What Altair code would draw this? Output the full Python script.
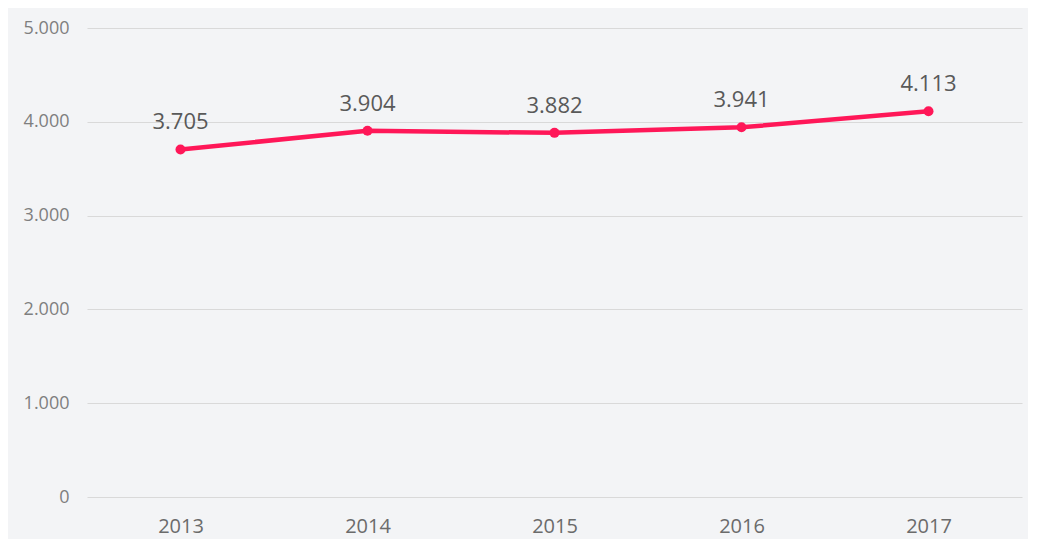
import altair as alt
import pandas as pd

years = ["2013", "2014", "2015", "2016", "2017"]
values = [3705, 3904, 3882, 3941, 4113]
y_ticks = [0, 1000, 2000, 3000, 4000, 5000]

df = pd.DataFrame({"year": years, "value": values})

FONT = "Open Sans"
LINE = "#ff1758"

x = alt.X("year:N", sort=years, title=None,
          scale=alt.Scale(paddingInner=0, paddingOuter=0),
          axis=alt.Axis(labelAngle=0, labelFontSize=20, labelColor="#6b6b6b",
                        labelFont=FONT, labelPadding=19, domain=False, ticks=False,
                        grid=False))
y = alt.Y("value:Q", title=None,
          scale=alt.Scale(domain=[0, 5000], nice=False, zero=True),
          axis=alt.Axis(values=y_ticks,
                        labelExpr="replace(format(datum.value, ','), ',', '.')",
                        labelFontSize=18, labelColor="#7f7f7f", labelFont=FONT,
                        labelPadding=18, domain=False, ticks=False,
                        grid=True, gridColor="#d9d9d9", gridWidth=1))

base = alt.Chart(df).encode(x=x, y=y)

line = base.mark_line(color=LINE, strokeWidth=4.5)
points = base.mark_point(filled=True, color=LINE, size=100, opacity=1)
labels = base.transform_calculate(
    lab="replace(format(datum.value, ','), ',', '.')"
).mark_text(dy=-20, baseline="alphabetic", fontSize=22, font=FONT, color="#595959").encode(
    text="lab:N"
)

chart = alt.layer(line, points, labels).properties(
    width=935, height=469,
    background="#f3f4f6",
    padding={"left": 79, "top": 20, "right": 6, "bottom": 42},
    autosize=alt.AutoSizeParams(type="none"),
).configure_view(stroke=None)

chart.save("out.html", embed_options={"renderer": "svg", "actions": False})
